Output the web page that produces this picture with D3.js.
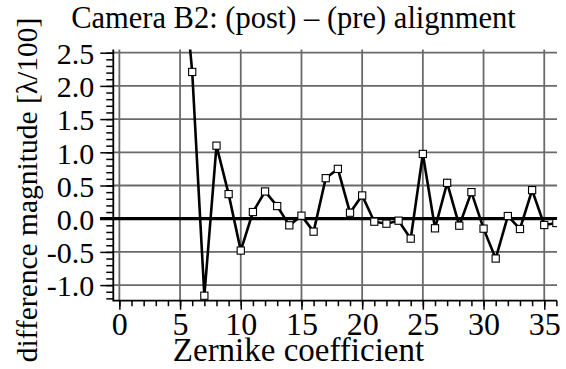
<!DOCTYPE html>
<html>
<head>
<meta charset="utf-8">
<style>
  body { margin: 0; background: white; }
  svg { display: block; }
  svg text { font-family: "Liberation Serif", "Times New Roman", serif; fill: black; }
</style>
<script src="https://cdn.jsdelivr.net/npm/d3@7"></script>
</head>
<body>
<svg id="main"></svg>
<script>
  // zernike coefficient index and (post) - (pre) difference, in units of lambda/100
  const coeffs = [5, 6, 7, 8, 9, 10, 11, 12, 13, 14, 15, 16, 17, 18, 19, 20,
                  21, 22, 23, 24, 25, 26, 27, 28, 29, 30, 31, 32, 33, 34, 35, 36]
  const diffs = [4.2, 2.21, -1.16, 1.10, 0.37, -0.48, 0.10, 0.41, 0.19, -0.10, 0.045, -0.195, 0.61, 0.75, 0.09, 0.35,
                 -0.045, -0.075, -0.03, -0.30, 0.975, -0.145, 0.54, -0.105, 0.40, -0.15, -0.60, 0.04, -0.155, 0.43, -0.095, -0.065]
  const xTicks = [0, 5, 10, 15, 20, 25, 30, 35]
  const yTicks = [-1.0, -0.5, 0.0, 0.5, 1.0, 1.5, 2.0, 2.5]

  const width = 566, height = 369
  const svg = d3.select("#main").attr("width", width).attr("height", height)

  const x = d3.scaleLinear().domain([-0.5, 36.05]).range([113.3, 557])
  const y = d3.scaleLinear().domain([-1.235, 2.548]).range([300.7, 49.5])

  const data = coeffs.map((c, i) => ({c: c, v: diffs[i]}))

  svg.append("defs").append("clipPath").attr("id", "plot")
    .append("rect")
    .attr("x", x.range()[0]).attr("y", y.range()[1])
    .attr("width", x.range()[1] - x.range()[0])
    .attr("height", y.range()[0] - y.range()[1])

  // grid
  const grid = svg.append("g").attr("stroke", "#6a6a6a").attr("stroke-width", 1.8)
  grid.selectAll(".v").data(xTicks).join("line")
    .attr("x1", d => x(d)).attr("x2", d => x(d))
    .attr("y1", y.range()[1]).attr("y2", y.range()[0])
  grid.selectAll(".h").data(yTicks.filter(d => d !== 0)).join("line")
    .attr("y1", d => y(d)).attr("y2", d => y(d))
    .attr("x1", x.range()[0]).attr("x2", x.range()[1])

  // zero line
  svg.append("line")
    .attr("x1", 100).attr("x2", x.range()[1])
    .attr("y1", y(0)).attr("y2", y(0))
    .attr("stroke", "black").attr("stroke-width", 3.2)

  // left axis
  const yMinor = d3.range(-12, 26).map(d => d / 10)
  const yAxis = svg.append("g").attr("transform", `translate(${x.range()[0]},0)`)
    .call(d3.axisLeft(y).tickValues(yMinor).tickSize(7).tickFormat(""))
  yAxis.select(".domain").remove()
  yAxis.selectAll("line").attr("stroke-width", 1.5)
  const yMaj = svg.append("g").attr("transform", `translate(${x.range()[0]},0)`)
    .call(d3.axisLeft(y).tickValues(yTicks).tickSize(13).tickPadding(6).tickFormat(d3.format(".1f")))
  yMaj.attr("font-family", null).attr("font-size", null)
  yMaj.select(".domain").remove()
  yMaj.selectAll("line").attr("stroke-width", 1.5)
  yMaj.selectAll("text").style("font-size", "30px").attr("dy", "0.36em")
    .text(d => d3.format(".1f")(d).replace("−", "-"))

  // bottom axis
  const xAxis = svg.append("g").attr("transform", `translate(0,${y.range()[0]})`)
    .call(d3.axisBottom(x).tickValues(d3.range(0, 37)).tickSize(5.5).tickFormat(""))
  xAxis.select(".domain").remove()
  xAxis.selectAll("line").attr("stroke-width", 1.5)
  const xMaj = svg.append("g").attr("transform", `translate(0,${y.range()[0]})`)
    .call(d3.axisBottom(x).tickValues(xTicks).tickSize(9).tickPadding(0))
  xMaj.attr("font-family", null).attr("font-size", null)
  xMaj.select(".domain").remove()
  xMaj.selectAll("line").attr("stroke-width", 1.5)
  xMaj.selectAll("text").style("font-size", "32px").attr("dy", null).attr("y", 34.5)

  // axis lines
  svg.append("path")
    .attr("d", `M${x.range()[0]},${y.range()[1]}V${y.range()[0]}H${x.range()[1]}`)
    .attr("fill", "none").attr("stroke", "black").attr("stroke-width", 1.8)

  // data
  const plot = svg.append("g").attr("clip-path", "url(#plot)")
  plot.append("path").datum(data)
    .attr("fill", "none").attr("stroke", "black").attr("stroke-width", 2.6)
    .attr("stroke-linejoin", "miter")
    .attr("d", d3.line().x(d => x(d.c)).y(d => y(d.v)))
  plot.selectAll("rect.pt").data(data).join("rect")
    .attr("x", d => x(d.c) - 3.6).attr("y", d => y(d.v) - 3.6)
    .attr("width", 7.2).attr("height", 7.2)
    .attr("fill", "white").attr("stroke", "black").attr("stroke-width", 1.1)

  // titles
  svg.append("text").attr("x", 293.5).attr("y", 27.5)
    .attr("text-anchor", "middle").style("font-size", "30.5px")
    .text("Camera B2: (post) – (pre) alignment")
  svg.append("text").attr("x", 298.5).attr("y", 361)
    .attr("text-anchor", "middle").style("font-size", "33px")
    .text("Zernike coefficient")
  svg.append("text").attr("transform", "translate(37,190) rotate(-90)")
    .attr("text-anchor", "middle").style("font-size", "29.5px")
    .text("difference magnitude [λ/100]")
</script>
</body>
</html>
